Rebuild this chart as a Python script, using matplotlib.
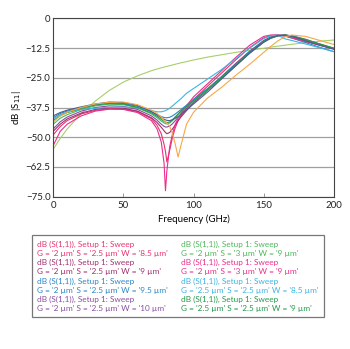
import matplotlib
matplotlib.use("Agg")
import matplotlib.pyplot as plt

plt.rcParams['font.family'] = ['Lato', 'DejaVu Sans']

# frequency points (GHz)
freq = [0, 5, 10, 20, 30, 40, 50, 60, 70, 74, 77, 79, 80, 81, 83, 85, 87, 89, 91,
        95, 100, 110, 120, 130, 140, 150, 155, 160, 165, 170, 180, 190, 200]

# dB |S11| per sweep
s_w85 = [-49, -45.5, -43, -40.2, -38.7, -38, -38.1, -39.2, -42.2, -45, -48.5, -53, -56, -60.4, -55.5, -50, -46, -43, -41,
         -37.8, -34.2, -28.5, -23, -17.5, -12.3, -8.2, -7.2, -7, -7.2, -7.8, -9.6, -11.3, -12.8]
s_w9 = [-47.5, -44.5, -42.3, -39.8, -38.3, -37.6, -37.8, -39, -41.8, -43.8, -45.8, -47.3, -48, -48.5, -48, -46.5, -44.8, -43, -41.5,
        -38.8, -35.5, -30, -24.5, -19, -13.8, -9.3, -7.8, -7.2, -7.1, -7.5, -9.2, -11, -12.8]
s_w95 = [-41.8, -40, -39, -37.5, -36.3, -35.6, -35.8, -37, -39.3, -40.5, -41.3, -41.7, -41.8, -41.8, -41.6, -41, -40.2, -39.3, -38.4,
         -36.5, -34, -29.5, -24.5, -19.3, -14, -9.6, -8, -7.2, -7.4, -8.3, -10.2, -12.2, -14]
s_w10 = [-46.5, -43.5, -41.5, -39, -37.5, -36.8, -37, -38.3, -41, -42.8, -44.5, -45.4, -45.7, -45.7, -45.3, -44.3, -43, -41.6, -40.3,
         -38, -35.3, -30.3, -25.2, -20, -14.7, -10, -8.3, -7.4, -7, -7.3, -8.8, -10.8, -12.8]
s_s3_a = [-44.5, -42, -40.5, -38.3, -36.8, -36.1, -36.3, -37.6, -40.2, -41.8, -43.2, -44, -44.3, -44.4, -44, -43, -41.8, -40.5, -39.3,
          -37.2, -34.8, -30, -25, -19.8, -14.6, -10, -8.4, -7.4, -7.1, -7.4, -9, -10.8, -12.6]
s_s3_b = [-53.5, -47.5, -44.5, -41, -39, -38.2, -38.3, -39.6, -43, -46.5, -52, -61, -72.5, -64, -54, -48.5, -44.5, -42, -40,
          -36.8, -33, -27.5, -22, -16.5, -11.3, -7.6, -7, -7, -7.4, -8.2, -9.8, -11.3, -12.8]
s_g25_w85 = [-42.3, -40.5, -39.5, -38.3, -37.8, -37.4, -37.3, -37.6, -38.8, -39.3, -39.3, -39, -38.8, -38.5, -37.8, -36.8, -35.8, -34.8, -33.8,
             -31.5, -29.5, -25.5, -21.5, -17, -12.5, -8.5, -7.3, -7, -8.6, -9.3, -10.8, -12.4, -14]
s_g25_w9 = [-43, -41, -39.6, -37.8, -36.4, -35.8, -36, -37.4, -39.8, -41.2, -42.5, -43.3, -43.6, -43.8, -43.6, -42.6, -41.4, -40.2, -39,
            -37, -34.6, -29.8, -24.8, -19.7, -14.5, -9.8, -8.2, -7.3, -7, -7.4, -9, -10.8, -12.5]
# curves without a legend entry
s_extra1 = [-41, -39.6, -38.6, -37.2, -36, -35.2, -35.4, -36.6, -39.2, -40.6, -41.8, -42.5, -42.7, -42.9, -43, -42.6, -42, -41.3, -40.5,
            -38.5, -36, -31, -25.5, -20, -14.5, -10, -8.3, -7.3, -7, -7.5, -9.5, -11.3, -13]
s_extra2 = [-43.6, -41, -39.5, -37.5, -36, -35.3, -35.2, -36.3, -38.6, -40, -41.5, -43, -43.6, -44, -45.5, -48.5, -53, -58.3, -53.5,
            -44.5, -39.5, -33.5, -29, -24, -19.3, -14.3, -11.8, -9.5, -7.8, -7, -7.6, -9.3, -11]
s_extra3 = [-55, -50.5, -46.5, -40, -34.8, -30.3, -26.8, -24.2, -22, -21.3, -20.8, -20.5, -20.3, -20.2, -19.9, -19.6, -19.3, -19, -18.7,
            -18.2, -17.5, -16.3, -15.3, -14.3, -13.4, -12.6, -12.1, -11.7, -11.3, -10.9, -10.2, -9.6, -9.1]

series = [s_w85, s_w9, s_w95, s_w10, s_s3_a, s_s3_b, s_g25_w85, s_g25_w9]
labels = [
    "G = '2 µm' S = '2.5 µm' W = '8.5 µm'",
    "G = '2 µm' S = '2.5 µm' W = '9 µm'",
    "G = '2 µm' S = '2.5 µm' W = '9.5 µm'",
    "G = '2 µm' S = '2.5 µm' W = '10 µm'",
    "G = '2 µm' S = '3 µm' W = '9 µm'",
    "G = '2 µm' S = '3 µm' W = '9 µm'",
    "G = '2.5 µm' S = '2.5 µm' W = '8.5 µm'",
    "G = '2.5 µm' S = '2.5 µm' W = '9 µm'",
]
colors = ['#e8336e', '#a0306f', '#2a86c8', '#8a4ea0', '#4cb85a', '#ec2d8c', '#3cb4e6', '#23994a']
extra_colors = ['#4b5d8e', '#f7a847', '#a6d06a']

fig = plt.figure(figsize=(3.5, 3.49), dpi=100)
ax = fig.add_axes([0.152, 0.4364, 0.802, 0.511])

# background curves first
ax.plot(freq, s_extra3, color=extra_colors[2], lw=0.8)
lines = []
for s, c in zip(series, colors):
    ln, = ax.plot(freq, s, color=c, lw=0.8)
    lines.append(ln)
ax.plot(freq, s_extra1, color=extra_colors[0], lw=0.8)
ax.plot(freq, s_extra2, color=extra_colors[1], lw=0.8)

ax.set_xlim(0, 200)
ax.set_ylim(-75, 0)
ax.set_xticks([0, 50, 100, 150, 200])
ax.set_yticks([0, -12.5, -25, -37.5, -50, -62.5, -75])
ax.set_yticklabels(['0', '\u221212.5', '\u221225.0', '\u221237.5', '\u221250.0', '\u221262.5', '\u221275.0'])
ax.tick_params(axis='both', labelsize=7, colors='#222222')
ax.tick_params(axis='x', direction='in', length=3, width=0.6, color='#888888', pad=3)
ax.tick_params(axis='y', length=0, pad=2)
ax.yaxis.grid(True, color='#a0a0a0', lw=0.9)
ax.set_axisbelow(True)
for sp in ax.spines.values():
    sp.set_color('#444444')
    sp.set_linewidth(0.8)

ax.set_xlabel('Frequency (GHz)', fontsize=7, labelpad=3)
ax.set_ylabel('dB |S$_{11}$|', fontsize=7, labelpad=2)

leg_labels = ['dB (S(1,1)), Setup 1: Sweep\n' + l for l in labels]
leg = fig.legend(lines, leg_labels, loc='upper left', bbox_to_anchor=(0.0906, 0.3258),
                 ncol=2, fontsize=5.95, handlelength=0, handletextpad=0,
                 labelspacing=0.3, columnspacing=1.6, borderpad=0.65,
                 borderaxespad=0, fancybox=False, framealpha=1, edgecolor='#777777')
leg.get_frame().set_linewidth(0.9)
for t, c in zip(leg.get_texts(), colors):
    t.set_color(c)
    t.set_linespacing(1.3)
for h in leg.legend_handles:
    h.set_visible(False)

fig.savefig('out.png', dpi=100)
